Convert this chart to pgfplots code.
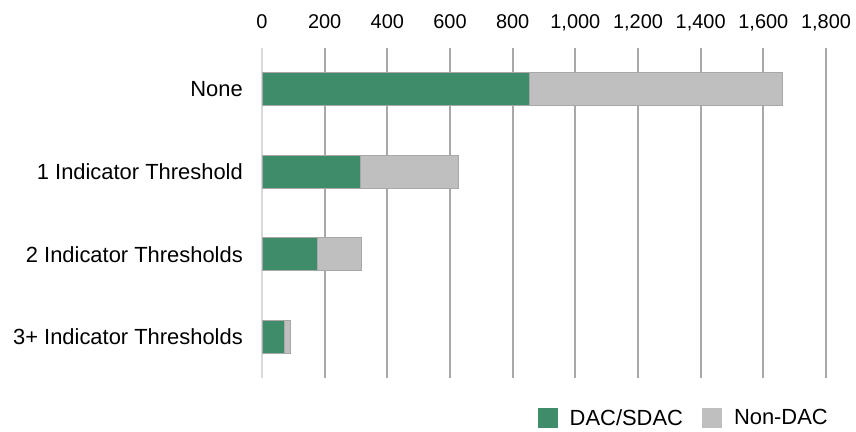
\documentclass[border=0pt]{standalone}
\usepackage{pgfplots}
\pgfplotsset{compat=1.18}
\usepackage{fontspec}
\setmainfont{Liberation Sans}
\definecolor{dacgreen}{RGB}{63,140,106}
\definecolor{nongray}{RGB}{191,191,191}
\definecolor{barline}{RGB}{168,168,168}
\definecolor{gridc}{RGB}{168,168,168}
\definecolor{zeroc}{RGB}{217,217,217}
\begin{document}
\begin{tikzpicture}[x=1bp,y=1bp]
\useasboundingbox (0,0) rectangle (856,-431);
\begin{axis}[
  at={(262bp,-378bp)}, anchor=south west,
  scale only axis, width=564bp, height=330bp,
  xbar stacked, bar width=33bp,
  xmin=0, xmax=1800,
  ymin=-0.5, ymax=3.5, y dir=reverse,
  ytick={0,1,2,3},
  yticklabels={None,1 Indicator Threshold,2 Indicator Thresholds,3+ Indicator Thresholds},
  xtick={200,400,...,1800},
  extra x ticks={0},
  extra x tick style={grid style={draw=zeroc, line width=1.8bp}},
  xmajorgrids,
  grid style={draw=gridc, line width=1.8bp},
  axis line style={draw=none},
  major tick length=0pt,
  xticklabel pos=top,
  /pgf/number format/.cd, 1000 sep={,}, assume math mode=true,
  /pgfplots/.cd,
  xticklabel style={font=\fontsize{20}{24}\selectfont, anchor=base, inner sep=0pt, yshift=20bp},
  yticklabel style={font=\fontsize{22}{26}\selectfont, anchor=east, inner sep=0pt, xshift=-19bp},
  legend style={at={(1.0035,-0.121)}, anchor=east, draw=none, fill=none, inner sep=0pt,
    legend columns=2, font=\fontsize{22}{26}\selectfont,
    nodes={inner sep=0pt},
    /tikz/every odd column/.append style={column sep=12bp},
    /tikz/every even column/.append style={column sep=19bp}},
  legend image code/.code={\draw[#1, draw=none] (0bp,-10bp) rectangle (20bp,10bp);},
]
\addplot[fill=dacgreen, draw=barline, line width=1bp] coordinates {(853,0) (313,1) (178,2) (71,3)};
\addplot[fill=nongray, draw=barline, line width=1bp] coordinates {(809,0) (314,1) (140,2) (21,3)};
\legend{DAC/SDAC, Non-DAC}
\end{axis}
\end{tikzpicture}
\end{document}
